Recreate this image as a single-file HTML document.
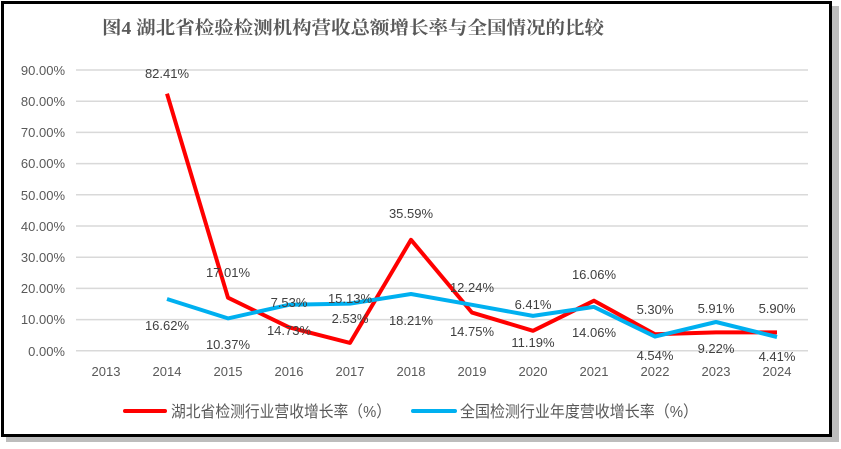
<!DOCTYPE html>
<html><head><meta charset="utf-8"><style>
body{margin:0;background:#fff;}
svg{display:block;font-family:"Liberation Sans","Noto Sans CJK SC",sans-serif;}
</style></head><body>
<svg width="841" height="449" xmlns="http://www.w3.org/2000/svg">
<rect x="0" y="0" width="841" height="449" fill="#fff"/>
<rect x="6" y="6" width="833" height="436" fill="#bdbdbd"/>
<rect x="2.5" y="2.5" width="828" height="433" fill="#fff" stroke="#000" stroke-width="3"/>
<text x="102" y="34" font-size="18" font-weight="bold" fill="#595959" textLength="502" lengthAdjust="spacingAndGlyphs" font-family="'Liberation Serif','Noto Serif CJK SC',serif">图4  湖北省检验检测机构营收总额增长率与全国情况的比较</text>
<g stroke="#d9d9d9" stroke-width="1.5">
<line x1="76" x2="808" y1="70" y2="70"/><line x1="76" x2="808" y1="101.2" y2="101.2"/>
<line x1="76" x2="808" y1="132.4" y2="132.4"/><line x1="76" x2="808" y1="163.6" y2="163.6"/>
<line x1="76" x2="808" y1="194.8" y2="194.8"/><line x1="76" x2="808" y1="226" y2="226"/>
<line x1="76" x2="808" y1="257.2" y2="257.2"/><line x1="76" x2="808" y1="288.4" y2="288.4"/>
<line x1="76" x2="808" y1="319.6" y2="319.6"/><line x1="76" x2="808" y1="350.8" y2="350.8"/>
</g>
<g font-size="13" fill="#595959" text-anchor="end">
<text x="65" y="75">90.00%</text><text x="65" y="106">80.00%</text><text x="65" y="137">70.00%</text>
<text x="65" y="168">60.00%</text><text x="65" y="200">50.00%</text><text x="65" y="231">40.00%</text>
<text x="65" y="262">30.00%</text><text x="65" y="293">20.00%</text><text x="65" y="324">10.00%</text>
<text x="65" y="356">0.00%</text>
</g>
<g font-size="13" fill="#595959" text-anchor="middle">
<text x="106" y="376">2013</text><text x="167" y="376">2014</text><text x="228" y="376">2015</text>
<text x="289" y="376">2016</text><text x="350" y="376">2017</text><text x="411" y="376">2018</text>
<text x="472" y="376">2019</text><text x="533" y="376">2020</text><text x="594" y="376">2021</text>
<text x="655" y="376">2022</text><text x="716" y="376">2023</text><text x="777" y="376">2024</text>
</g>
<polyline fill="none" stroke="#ff0000" stroke-width="4" stroke-linejoin="round" points="167,93.7 228,297.7 289,327.3 350,342.9 411,239.8 472,312.6 533,330.8 594,300.7 655,334.3 716,332.4 777,332.4"/>
<polyline fill="none" stroke="#00b0f0" stroke-width="4" stroke-linejoin="round" points="167,299 228,318.4 289,304.8 350,303.6 411,294 472,304.8 533,315.9 594,306.9 655,336.6 716,322 777,337"/>
<g font-size="13" fill="#404040" text-anchor="middle">
<text x="167" y="78">82.41%</text><text x="228" y="277">17.01%</text><text x="289" y="307">7.53%</text>
<text x="350" y="323">2.53%</text><text x="411" y="218">35.59%</text><text x="472" y="292">12.24%</text>
<text x="533" y="309">6.41%</text><text x="594" y="279">16.06%</text><text x="655" y="314">5.30%</text>
<text x="716" y="313">5.91%</text><text x="777" y="313">5.90%</text>
<text x="167" y="330">16.62%</text><text x="228" y="349">10.37%</text><text x="289" y="335">14.73%</text>
<text x="350" y="303">15.13%</text><text x="411" y="325">18.21%</text><text x="472" y="336">14.75%</text>
<text x="533" y="347">11.19%</text><text x="594" y="337">14.06%</text><text x="655" y="360">4.54%</text>
<text x="716" y="353">9.22%</text><text x="777" y="361">4.41%</text>
</g>
<line x1="125" x2="165" y1="411" y2="411" stroke="#ff0000" stroke-width="4" stroke-linecap="round"/>
<text x="171" y="417" font-size="16" fill="#595959" textLength="220" lengthAdjust="spacingAndGlyphs">湖北省检测行业营收增长率（%）</text>
<line x1="413" x2="455" y1="411" y2="411" stroke="#00b0f0" stroke-width="4" stroke-linecap="round"/>
<text x="460" y="417" font-size="16" fill="#595959" textLength="238" lengthAdjust="spacingAndGlyphs">全国检测行业年度营收增长率（%）</text>
</svg>
</body></html>
